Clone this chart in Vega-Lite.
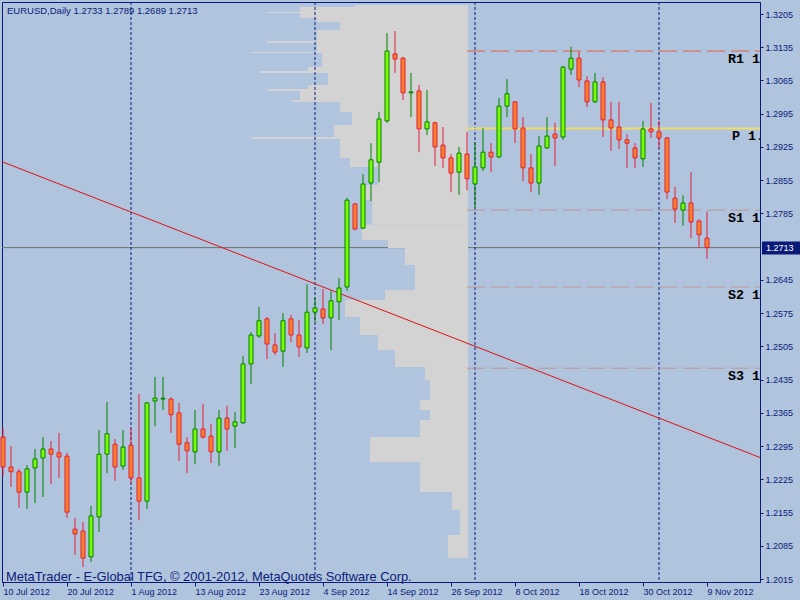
{
"$schema":"https://vega.github.io/schema/vega-lite/v6.json",
"width":758,"height":580,
"autosize":{"type":"none"},
"padding":{"left":2,"top":2,"right":40,"bottom":18},
"background":"#B0C4DE",
"config":{"view":{"stroke":"#0A1A78","fill":"#B0C4DE"},
"axis":{"labelFont":"Liberation Sans","labelFontSize":9,"labelColor":"#0A1A78","domainColor":"#0A1A78","tickColor":"#0A1A78","grid":false}},
"datasets":{
"candles":[
{"i":0,"o":1.2314,"h":1.2333,"l":1.2232,"c":1.2251},
{"i":1,"o":1.2251,"h":1.2295,"l":1.2209,"c":1.2241},
{"i":2,"o":1.2241,"h":1.2247,"l":1.2165,"c":1.2198},
{"i":3,"o":1.2198,"h":1.2255,"l":1.2163,"c":1.2247},
{"i":4,"o":1.2249,"h":1.2289,"l":1.2175,"c":1.2268},
{"i":5,"o":1.2270,"h":1.2314,"l":1.2188,"c":1.2289},
{"i":6,"o":1.2289,"h":1.2306,"l":1.2215,"c":1.2278},
{"i":7,"o":1.2281,"h":1.2323,"l":1.2228,"c":1.2272},
{"i":8,"o":1.2274,"h":1.2281,"l":1.2144,"c":1.2156},
{"i":9,"o":1.2120,"h":1.2144,"l":1.2066,"c":1.2110},
{"i":10,"o":1.2116,"h":1.2135,"l":1.2040,"c":1.2059},
{"i":11,"o":1.2062,"h":1.2169,"l":1.2051,"c":1.2148},
{"i":12,"o":1.2146,"h":1.2329,"l":1.2114,"c":1.2278},
{"i":13,"o":1.2278,"h":1.2388,"l":1.2238,"c":1.2321},
{"i":14,"o":1.2299,"h":1.2310,"l":1.2222,"c":1.2251},
{"i":15,"o":1.2253,"h":1.2329,"l":1.2245,"c":1.2293},
{"i":16,"o":1.2297,"h":1.2333,"l":1.2217,"c":1.2228},
{"i":17,"o":1.2228,"h":1.2405,"l":1.2139,"c":1.2179},
{"i":18,"o":1.2179,"h":1.2388,"l":1.2163,"c":1.2386},
{"i":19,"o":1.2390,"h":1.2441,"l":1.2337,"c":1.2396},
{"i":20,"o":1.2394,"h":1.2441,"l":1.2371,"c":1.2396},
{"i":21,"o":1.2394,"h":1.2398,"l":1.2323,"c":1.2361},
{"i":22,"o":1.2365,"h":1.2386,"l":1.2264,"c":1.2299},
{"i":23,"o":1.2302,"h":1.2314,"l":1.2238,"c":1.2285},
{"i":24,"o":1.2283,"h":1.2371,"l":1.2257,"c":1.2331},
{"i":25,"o":1.2331,"h":1.2384,"l":1.2311,"c":1.2314},
{"i":26,"o":1.2316,"h":1.2342,"l":1.2259,"c":1.2283},
{"i":27,"o":1.2283,"h":1.2371,"l":1.2253,"c":1.2354},
{"i":28,"o":1.2354,"h":1.2380,"l":1.2285,"c":1.2331},
{"i":29,"o":1.2337,"h":1.2367,"l":1.2291,"c":1.2346},
{"i":30,"o":1.2344,"h":1.2485,"l":1.2342,"c":1.2468},
{"i":31,"o":1.2468,"h":1.2535,"l":1.2426,"c":1.2529},
{"i":32,"o":1.2527,"h":1.2588,"l":1.2523,"c":1.2559},
{"i":33,"o":1.2563,"h":1.2567,"l":1.2478,"c":1.2510},
{"i":34,"o":1.2508,"h":1.2533,"l":1.2487,"c":1.2493},
{"i":35,"o":1.2495,"h":1.2575,"l":1.2462,"c":1.2559},
{"i":36,"o":1.2563,"h":1.2571,"l":1.2514,"c":1.2529},
{"i":37,"o":1.2529,"h":1.2561,"l":1.2483,"c":1.2504},
{"i":38,"o":1.2502,"h":1.2636,"l":1.2491,"c":1.2577},
{"i":39,"o":1.2577,"h":1.2609,"l":1.2556,"c":1.2586},
{"i":40,"o":1.2584,"h":1.2626,"l":1.2552,"c":1.2565},
{"i":41,"o":1.2565,"h":1.2622,"l":1.2497,"c":1.2601},
{"i":42,"o":1.2599,"h":1.2649,"l":1.2561,"c":1.2628},
{"i":43,"o":1.2630,"h":1.2818,"l":1.2622,"c":1.2813},
{"i":44,"o":1.2805,"h":1.2807,"l":1.2750,"c":1.2752},
{"i":45,"o":1.2754,"h":1.2868,"l":1.2752,"c":1.2847},
{"i":46,"o":1.2849,"h":1.2933,"l":1.2811,"c":1.2898},
{"i":47,"o":1.2893,"h":1.2999,"l":1.2851,"c":1.2984},
{"i":48,"o":1.2980,"h":1.3165,"l":1.2976,"c":1.3127},
{"i":49,"o":1.3121,"h":1.3169,"l":1.3081,"c":1.3110},
{"i":50,"o":1.3112,"h":1.3115,"l":1.3024,"c":1.3039},
{"i":51,"o":1.3039,"h":1.3081,"l":1.2988,"c":1.3041},
{"i":52,"o":1.3043,"h":1.3056,"l":1.2914,"c":1.2963},
{"i":53,"o":1.2963,"h":1.3045,"l":1.2950,"c":1.2978},
{"i":54,"o":1.2976,"h":1.2978,"l":1.2885,"c":1.2925},
{"i":55,"o":1.2929,"h":1.2967,"l":1.2881,"c":1.2902},
{"i":56,"o":1.2902,"h":1.2910,"l":1.2830,"c":1.2870},
{"i":57,"o":1.2872,"h":1.2925,"l":1.2824,"c":1.2912},
{"i":58,"o":1.2910,"h":1.2957,"l":1.2834,"c":1.2858},
{"i":59,"o":1.2847,"h":1.2935,"l":1.2797,"c":1.2883},
{"i":60,"o":1.2881,"h":1.2965,"l":1.2874,"c":1.2914},
{"i":61,"o":1.2914,"h":1.2933,"l":1.2872,"c":1.2904},
{"i":62,"o":1.2904,"h":1.3028,"l":1.2902,"c":1.3011},
{"i":63,"o":1.3011,"h":1.3068,"l":1.2988,"c":1.3037},
{"i":64,"o":1.3020,"h":1.3022,"l":1.2933,"c":1.2963},
{"i":65,"o":1.2965,"h":1.2988,"l":1.2853,"c":1.2881},
{"i":66,"o":1.2881,"h":1.2910,"l":1.2830,"c":1.2849},
{"i":67,"o":1.2849,"h":1.2948,"l":1.2824,"c":1.2927},
{"i":68,"o":1.2923,"h":1.2988,"l":1.2921,"c":1.2948},
{"i":69,"o":1.2952,"h":1.2976,"l":1.2885,"c":1.2944},
{"i":70,"o":1.2946,"h":1.3096,"l":1.2940,"c":1.3093},
{"i":71,"o":1.3089,"h":1.3136,"l":1.3077,"c":1.3112},
{"i":72,"o":1.3112,"h":1.3125,"l":1.3051,"c":1.3066},
{"i":73,"o":1.3064,"h":1.3074,"l":1.3009,"c":1.3020},
{"i":74,"o":1.3020,"h":1.3081,"l":1.3018,"c":1.3062},
{"i":75,"o":1.3062,"h":1.3072,"l":1.2946,"c":1.2982},
{"i":76,"o":1.2982,"h":1.3020,"l":1.2917,"c":1.2965},
{"i":77,"o":1.2967,"h":1.3020,"l":1.2921,"c":1.2940},
{"i":78,"o":1.2940,"h":1.2952,"l":1.2881,"c":1.2933},
{"i":79,"o":1.2923,"h":1.2933,"l":1.2881,"c":1.2902},
{"i":80,"o":1.2900,"h":1.2980,"l":1.2883,"c":1.2963},
{"i":81,"o":1.2963,"h":1.3018,"l":1.2944,"c":1.2957},
{"i":82,"o":1.2957,"h":1.2980,"l":1.2923,"c":1.2944},
{"i":83,"o":1.2944,"h":1.2946,"l":1.2815,"c":1.2830},
{"i":84,"o":1.2817,"h":1.2841,"l":1.2765,"c":1.2794},
{"i":85,"o":1.2792,"h":1.2823,"l":1.2759,"c":1.2807},
{"i":86,"o":1.2807,"h":1.2872,"l":1.2733,"c":1.2767},
{"i":87,"o":1.2769,"h":1.2773,"l":1.2712,"c":1.2740},
{"i":88,"o":1.2733,"h":1.2789,"l":1.2689,"c":1.2713}
],
"profile":[
{"lo":1.32198,"hi":1.32240,"v":113},
{"lo":1.32092,"hi":1.32198,"v":168},
{"lo":1.32071,"hi":1.32092,"v":200},
{"lo":1.31966,"hi":1.32071,"v":168},
{"lo":1.31882,"hi":1.31966,"v":151},
{"lo":1.31713,"hi":1.31882,"v":128},
{"lo":1.31482,"hi":1.31713,"v":151},
{"lo":1.31439,"hi":1.31482,"v":201},
{"lo":1.31250,"hi":1.31439,"v":151},
{"lo":1.31229,"hi":1.31250,"v":216},
{"lo":1.30934,"hi":1.31229,"v":146},
{"lo":1.30850,"hi":1.30934,"v":160},
{"lo":1.30808,"hi":1.30850,"v":208},
{"lo":1.30555,"hi":1.30808,"v":140},
{"lo":1.30471,"hi":1.30555,"v":160},
{"lo":1.30429,"hi":1.30471,"v":200},
{"lo":1.30239,"hi":1.30429,"v":168},
{"lo":1.30197,"hi":1.30239,"v":176},
{"lo":1.29986,"hi":1.30197,"v":128},
{"lo":1.29713,"hi":1.29986,"v":116},
{"lo":1.29460,"hi":1.29713,"v":134},
{"lo":1.29418,"hi":1.29460,"v":216},
{"lo":1.29018,"hi":1.29418,"v":128},
{"lo":1.28828,"hi":1.29018,"v":118},
{"lo":1.28449,"hi":1.28828,"v":90},
{"lo":1.28133,"hi":1.28449,"v":103},
{"lo":1.27610,"hi":1.28133,"v":96},
{"lo":1.27291,"hi":1.27610,"v":106},
{"lo":1.27122,"hi":1.27291,"v":80},
{"lo":1.26764,"hi":1.27122,"v":63},
{"lo":1.26238,"hi":1.26764,"v":53},
{"lo":1.26027,"hi":1.26238,"v":83},
{"lo":1.25669,"hi":1.26027,"v":123},
{"lo":1.25290,"hi":1.25669,"v":108},
{"lo":1.24974,"hi":1.25290,"v":90},
{"lo":1.24616,"hi":1.24974,"v":73},
{"lo":1.24342,"hi":1.24616,"v":43},
{"lo":1.23921,"hi":1.24342,"v":38},
{"lo":1.23710,"hi":1.23921,"v":48},
{"lo":1.23499,"hi":1.23710,"v":38},
{"lo":1.23142,"hi":1.23499,"v":48},
{"lo":1.22615,"hi":1.23142,"v":98},
{"lo":1.21984,"hi":1.22615,"v":48},
{"lo":1.21605,"hi":1.21984,"v":16},
{"lo":1.21078,"hi":1.21605,"v":8},
{"lo":1.20593,"hi":1.21078,"v":20}
],
"pivots":[
{"n":"R1","v":1.3127,"t":"R1 1"},
{"n":"P","v":1.2964,"t":"P 1."},
{"n":"S1","v":1.2792,"t":"S1 1"},
{"n":"S2","v":1.2630,"t":"S2 1"},
{"n":"S3","v":1.2459,"t":"S3 1"}
],
"months":[{"i":16},{"i":39},{"i":59},{"i":82}],
"trend":[{"i":-0.125,"p":1.2894},{"i":94.625,"p":1.2271}]
},
"resolve":{"scale":{"x":"independent"}},
"layer":[
{"data":{"values":[{}]},"mark":{"type":"rule","color":"#6E6E6E"},
 "encoding":{"y":{"datum":1.2713,"type":"quantitative","title":null,"scale":{"domain":[1.20088,1.32303],"nice":false,"zero":false,"padding":0},"axis":{"orient":"right","values":[1.2015,1.2085,1.2155,1.2225,1.2295,1.2365,1.2435,1.2505,1.2575,1.2645,1.2785,1.2855,1.2925,1.2995,1.3065,1.3135,1.3205],"format":".4f","tickSize":3,"labelPadding":2,"labelFlush":false,"labelOverlap":false,"title":null}}}},
{"data":{"name":"profile"},"mark":{"type":"rect","color":"#D3D3D3"},
 "encoding":{"x":{"field":"v","type":"quantitative","scale":{"domain":[-292,466],"reverse":true,"nice":false,"zero":false,"padding":0},"axis":null},
 "x2":{"datum":0},
 "y":{"field":"lo","type":"quantitative","title":null,"scale":{"domain":[1.20088,1.32303],"nice":false,"zero":false,"padding":0},"axis":{"orient":"right","values":[1.2015,1.2085,1.2155,1.2225,1.2295,1.2365,1.2435,1.2505,1.2575,1.2645,1.2785,1.2855,1.2925,1.2995,1.3065,1.3135,1.3205],"format":".4f","tickSize":3,"labelPadding":2,"labelFlush":false,"labelOverlap":false,"title":null}},"y2":{"field":"hi"}}},
{"layer":[
 {"data":{"name":"months"},"mark":{"type":"rule","color":"#0A1A78","strokeDash":[3,2]},
  "encoding":{"x":{"field":"i","type":"quantitative","title":null,"scale":{"domain":[-0.125,94.625],"nice":false,"zero":false,"padding":0},
   "axis":{"values":[0,8,16,24,32,40,48,56,64,72,80,88],"labelExpr":"['10 Jul 2012','20 Jul 2012','1 Aug 2012','13 Aug 2012','23 Aug 2012','4 Sep 2012','14 Sep 2012','26 Sep 2012','8 Oct 2012','18 Oct 2012','30 Oct 2012','9 Nov 2012'][round(datum.value/8)]","labelAlign":"left","labelFlush":false,"labelOverlap":false,"labelBound":false,"tickSize":4,"labelPadding":1,"orient":"bottom","title":null}}}},
 {"data":{"name":"pivots"},"mark":{"type":"rule"},
  "encoding":{"x":{"datum":58,"type":"quantitative","title":null,"scale":{"domain":[-0.125,94.625],"nice":false,"zero":false,"padding":0},"axis":{"values":[0,8,16,24,32,40,48,56,64,72,80,88],"labelExpr":"['10 Jul 2012','20 Jul 2012','1 Aug 2012','13 Aug 2012','23 Aug 2012','4 Sep 2012','14 Sep 2012','26 Sep 2012','8 Oct 2012','18 Oct 2012','30 Oct 2012','9 Nov 2012'][round(datum.value/8)]","labelAlign":"left","labelFlush":false,"labelOverlap":false,"labelBound":false,"tickSize":4,"labelPadding":1,"orient":"bottom","title":null}},"x2":{"datum":94.625},
   "y":{"field":"v","type":"quantitative","title":null,"scale":{"domain":[1.20088,1.32303],"nice":false,"zero":false,"padding":0},"axis":{"orient":"right","values":[1.2015,1.2085,1.2155,1.2225,1.2295,1.2365,1.2435,1.2505,1.2575,1.2645,1.2785,1.2855,1.2925,1.2995,1.3065,1.3135,1.3205],"format":".4f","tickSize":3,"labelPadding":2,"labelFlush":false,"labelOverlap":false,"title":null}},
   "color":{"condition":[{"test":"datum.n==='R1'","value":"#E8653F"},{"test":"datum.n==='P'","value":"#EEDD66"}],"value":"#C09494"},
   "strokeWidth":{"condition":{"test":"datum.n==='P'","value":2},"value":1},
   "strokeDash":{"condition":{"test":"datum.n==='P'","value":[1,0]},"value":[18,6]}}},
 {"data":{"name":"trend"},"mark":{"type":"line","color":"#E01010","strokeWidth":1},
  "encoding":{"x":{"field":"i","type":"quantitative","title":null,"scale":{"domain":[-0.125,94.625],"nice":false,"zero":false,"padding":0},"axis":{"values":[0,8,16,24,32,40,48,56,64,72,80,88],"labelExpr":"['10 Jul 2012','20 Jul 2012','1 Aug 2012','13 Aug 2012','23 Aug 2012','4 Sep 2012','14 Sep 2012','26 Sep 2012','8 Oct 2012','18 Oct 2012','30 Oct 2012','9 Nov 2012'][round(datum.value/8)]","labelAlign":"left","labelFlush":false,"labelOverlap":false,"labelBound":false,"tickSize":4,"labelPadding":1,"orient":"bottom","title":null}},
   "y":{"field":"p","type":"quantitative","title":null,"scale":{"domain":[1.20088,1.32303],"nice":false,"zero":false,"padding":0},"axis":{"orient":"right","values":[1.2015,1.2085,1.2155,1.2225,1.2295,1.2365,1.2435,1.2505,1.2575,1.2645,1.2785,1.2855,1.2925,1.2995,1.3065,1.3135,1.3205],"format":".4f","tickSize":3,"labelPadding":2,"labelFlush":false,"labelOverlap":false,"title":null}}}},
 {"data":{"name":"candles"},"mark":{"type":"rule","strokeWidth":1},
  "encoding":{"x":{"field":"i","type":"quantitative","title":null,"scale":{"domain":[-0.125,94.625],"nice":false,"zero":false,"padding":0},"axis":{"values":[0,8,16,24,32,40,48,56,64,72,80,88],"labelExpr":"['10 Jul 2012','20 Jul 2012','1 Aug 2012','13 Aug 2012','23 Aug 2012','4 Sep 2012','14 Sep 2012','26 Sep 2012','8 Oct 2012','18 Oct 2012','30 Oct 2012','9 Nov 2012'][round(datum.value/8)]","labelAlign":"left","labelFlush":false,"labelOverlap":false,"labelBound":false,"tickSize":4,"labelPadding":1,"orient":"bottom","title":null}},
   "y":{"field":"l","type":"quantitative","title":null,"scale":{"domain":[1.20088,1.32303],"nice":false,"zero":false,"padding":0},"axis":{"orient":"right","values":[1.2015,1.2085,1.2155,1.2225,1.2295,1.2365,1.2435,1.2505,1.2575,1.2645,1.2785,1.2855,1.2925,1.2995,1.3065,1.3135,1.3205],"format":".4f","tickSize":3,"labelPadding":2,"labelFlush":false,"labelOverlap":false,"title":null}},
   "y2":{"field":"h"},
   "color":{"condition":{"test":"datum.c>=datum.o","value":"#008000"},"value":"#E0203C"}}},
 {"data":{"name":"candles"},"mark":{"type":"bar","orient":"vertical","size":4,"strokeWidth":1},
  "encoding":{"x":{"field":"i","type":"quantitative","title":null,"scale":{"domain":[-0.125,94.625],"nice":false,"zero":false,"padding":0},"axis":{"values":[0,8,16,24,32,40,48,56,64,72,80,88],"labelExpr":"['10 Jul 2012','20 Jul 2012','1 Aug 2012','13 Aug 2012','23 Aug 2012','4 Sep 2012','14 Sep 2012','26 Sep 2012','8 Oct 2012','18 Oct 2012','30 Oct 2012','9 Nov 2012'][round(datum.value/8)]","labelAlign":"left","labelFlush":false,"labelOverlap":false,"labelBound":false,"tickSize":4,"labelPadding":1,"orient":"bottom","title":null}},
   "y":{"field":"o","type":"quantitative","title":null,"scale":{"domain":[1.20088,1.32303],"nice":false,"zero":false,"padding":0},"axis":{"orient":"right","values":[1.2015,1.2085,1.2155,1.2225,1.2295,1.2365,1.2435,1.2505,1.2575,1.2645,1.2785,1.2855,1.2925,1.2995,1.3065,1.3135,1.3205],"format":".4f","tickSize":3,"labelPadding":2,"labelFlush":false,"labelOverlap":false,"title":null}},"y2":{"field":"c"},
   "fill":{"condition":{"test":"datum.c>=datum.o","value":"#7CFC00"},"value":"#FF7F27"},
   "stroke":{"condition":{"test":"datum.c>=datum.o","value":"#008000"},"value":"#E0203C"}}},
 {"data":{"name":"pivots"},"transform":[{"filter":"datum.n!=='P'"}],
  "mark":{"type":"text","clip":true,"font":"Liberation Mono","fontWeight":"bold","fontSize":13.4,"align":"left","baseline":"alphabetic","dy":12,"color":"#000000"},
  "encoding":{"x":{"datum":90.625,"type":"quantitative","title":null,"scale":{"domain":[-0.125,94.625],"nice":false,"zero":false,"padding":0},"axis":{"values":[0,8,16,24,32,40,48,56,64,72,80,88],"labelExpr":"['10 Jul 2012','20 Jul 2012','1 Aug 2012','13 Aug 2012','23 Aug 2012','4 Sep 2012','14 Sep 2012','26 Sep 2012','8 Oct 2012','18 Oct 2012','30 Oct 2012','9 Nov 2012'][round(datum.value/8)]","labelAlign":"left","labelFlush":false,"labelOverlap":false,"labelBound":false,"tickSize":4,"labelPadding":1,"orient":"bottom","title":null}},
   "y":{"field":"v","type":"quantitative","title":null,"scale":{"domain":[1.20088,1.32303],"nice":false,"zero":false,"padding":0},"axis":{"orient":"right","values":[1.2015,1.2085,1.2155,1.2225,1.2295,1.2365,1.2435,1.2505,1.2575,1.2645,1.2785,1.2855,1.2925,1.2995,1.3065,1.3135,1.3205],"format":".4f","tickSize":3,"labelPadding":2,"labelFlush":false,"labelOverlap":false,"title":null}},"text":{"field":"t"}}},
 {"data":{"name":"pivots"},"transform":[{"filter":"datum.n==='P'"}],
  "mark":{"type":"text","clip":true,"font":"Liberation Mono","fontWeight":"bold","fontSize":13.4,"align":"left","baseline":"alphabetic","dy":12,"color":"#000000"},
  "encoding":{"x":{"datum":91.125,"type":"quantitative","title":null,"scale":{"domain":[-0.125,94.625],"nice":false,"zero":false,"padding":0},"axis":{"values":[0,8,16,24,32,40,48,56,64,72,80,88],"labelExpr":"['10 Jul 2012','20 Jul 2012','1 Aug 2012','13 Aug 2012','23 Aug 2012','4 Sep 2012','14 Sep 2012','26 Sep 2012','8 Oct 2012','18 Oct 2012','30 Oct 2012','9 Nov 2012'][round(datum.value/8)]","labelAlign":"left","labelFlush":false,"labelOverlap":false,"labelBound":false,"tickSize":4,"labelPadding":1,"orient":"bottom","title":null}},
   "y":{"field":"v","type":"quantitative","title":null,"scale":{"domain":[1.20088,1.32303],"nice":false,"zero":false,"padding":0},"axis":{"orient":"right","values":[1.2015,1.2085,1.2155,1.2225,1.2295,1.2365,1.2435,1.2505,1.2575,1.2645,1.2785,1.2855,1.2925,1.2995,1.3065,1.3135,1.3205],"format":".4f","tickSize":3,"labelPadding":2,"labelFlush":false,"labelOverlap":false,"title":null}},"text":{"field":"t"}}},
 {"data":{"values":[{"t":"EURUSD,Daily  1.2733 1.2789 1.2689 1.2713"}]},
  "mark":{"type":"text","font":"Liberation Sans","fontSize":9.5,"align":"left","baseline":"middle","color":"#0A1A78"},
  "encoding":{"x":{"datum":0.5,"type":"quantitative","title":null,"scale":{"domain":[-0.125,94.625],"nice":false,"zero":false,"padding":0},"axis":{"values":[0,8,16,24,32,40,48,56,64,72,80,88],"labelExpr":"['10 Jul 2012','20 Jul 2012','1 Aug 2012','13 Aug 2012','23 Aug 2012','4 Sep 2012','14 Sep 2012','26 Sep 2012','8 Oct 2012','18 Oct 2012','30 Oct 2012','9 Nov 2012'][round(datum.value/8)]","labelAlign":"left","labelFlush":false,"labelOverlap":false,"labelBound":false,"tickSize":4,"labelPadding":1,"orient":"bottom","title":null}},
   "y":{"datum":1.32113,"type":"quantitative","title":null,"scale":{"domain":[1.20088,1.32303],"nice":false,"zero":false,"padding":0},"axis":{"orient":"right","values":[1.2015,1.2085,1.2155,1.2225,1.2295,1.2365,1.2435,1.2505,1.2575,1.2645,1.2785,1.2855,1.2925,1.2995,1.3065,1.3135,1.3205],"format":".4f","tickSize":3,"labelPadding":2,"labelFlush":false,"labelOverlap":false,"title":null}},"text":{"field":"t"}}},
 {"data":{"values":[{"t":"MetaTrader - E-Global TFG, © 2001-2012, MetaQuotes Software Corp."}]},
  "mark":{"type":"text","font":"Liberation Sans","fontSize":12.9,"align":"left","baseline":"middle","color":"#0A1A78"},
  "encoding":{"x":{"datum":0.375,"type":"quantitative","title":null,"scale":{"domain":[-0.125,94.625],"nice":false,"zero":false,"padding":0},"axis":{"values":[0,8,16,24,32,40,48,56,64,72,80,88],"labelExpr":"['10 Jul 2012','20 Jul 2012','1 Aug 2012','13 Aug 2012','23 Aug 2012','4 Sep 2012','14 Sep 2012','26 Sep 2012','8 Oct 2012','18 Oct 2012','30 Oct 2012','9 Nov 2012'][round(datum.value/8)]","labelAlign":"left","labelFlush":false,"labelOverlap":false,"labelBound":false,"tickSize":4,"labelPadding":1,"orient":"bottom","title":null}},
   "y":{"datum":1.20193,"type":"quantitative","title":null,"scale":{"domain":[1.20088,1.32303],"nice":false,"zero":false,"padding":0},"axis":{"orient":"right","values":[1.2015,1.2085,1.2155,1.2225,1.2295,1.2365,1.2435,1.2505,1.2575,1.2645,1.2785,1.2855,1.2925,1.2995,1.3065,1.3135,1.3205],"format":".4f","tickSize":3,"labelPadding":2,"labelFlush":false,"labelOverlap":false,"title":null}},"text":{"field":"t"}}},
 {"data":{"values":[{}]},"mark":{"type":"rect","color":"#0A1A78"},
  "encoding":{"x":{"datum":94.875,"type":"quantitative","title":null,"scale":{"domain":[-0.125,94.625],"nice":false,"zero":false,"padding":0},"axis":{"values":[0,8,16,24,32,40,48,56,64,72,80,88],"labelExpr":"['10 Jul 2012','20 Jul 2012','1 Aug 2012','13 Aug 2012','23 Aug 2012','4 Sep 2012','14 Sep 2012','26 Sep 2012','8 Oct 2012','18 Oct 2012','30 Oct 2012','9 Nov 2012'][round(datum.value/8)]","labelAlign":"left","labelFlush":false,"labelOverlap":false,"labelBound":false,"tickSize":4,"labelPadding":1,"orient":"bottom","title":null}},"x2":{"datum":99.625},
   "y":{"datum":1.27259,"type":"quantitative","title":null,"scale":{"domain":[1.20088,1.32303],"nice":false,"zero":false,"padding":0},"axis":{"orient":"right","values":[1.2015,1.2085,1.2155,1.2225,1.2295,1.2365,1.2435,1.2505,1.2575,1.2645,1.2785,1.2855,1.2925,1.2995,1.3065,1.3135,1.3205],"format":".4f","tickSize":3,"labelPadding":2,"labelFlush":false,"labelOverlap":false,"title":null}},"y2":{"datum":1.26985}}},
 {"data":{"values":[{"t":"1.2713"}]},
  "mark":{"type":"text","font":"Liberation Sans","fontSize":9,"align":"left","baseline":"middle","color":"#FFFFFF"},
  "encoding":{"x":{"datum":95.375,"type":"quantitative","title":null,"scale":{"domain":[-0.125,94.625],"nice":false,"zero":false,"padding":0},"axis":{"values":[0,8,16,24,32,40,48,56,64,72,80,88],"labelExpr":"['10 Jul 2012','20 Jul 2012','1 Aug 2012','13 Aug 2012','23 Aug 2012','4 Sep 2012','14 Sep 2012','26 Sep 2012','8 Oct 2012','18 Oct 2012','30 Oct 2012','9 Nov 2012'][round(datum.value/8)]","labelAlign":"left","labelFlush":false,"labelOverlap":false,"labelBound":false,"tickSize":4,"labelPadding":1,"orient":"bottom","title":null}},
   "y":{"datum":1.2713,"type":"quantitative","title":null,"scale":{"domain":[1.20088,1.32303],"nice":false,"zero":false,"padding":0},"axis":{"orient":"right","values":[1.2015,1.2085,1.2155,1.2225,1.2295,1.2365,1.2435,1.2505,1.2575,1.2645,1.2785,1.2855,1.2925,1.2995,1.3065,1.3135,1.3205],"format":".4f","tickSize":3,"labelPadding":2,"labelFlush":false,"labelOverlap":false,"title":null}},"text":{"field":"t"}}}
]}
]
}
